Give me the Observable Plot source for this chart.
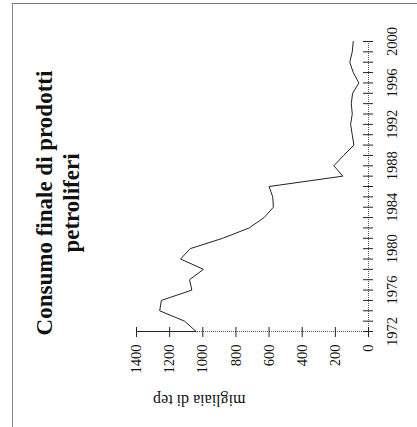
<!DOCTYPE html>
<html><head><meta charset="utf-8">
<script src="https://cdn.jsdelivr.net/npm/d3@7"></script>
<script src="https://cdn.jsdelivr.net/npm/@observablehq/plot@0.6"></script>
<style>
html,body{margin:0;padding:0;overflow:hidden;background:#fff;}
#page{position:relative;width:417px;height:427px;overflow:hidden;background:#fff;}
#border{position:absolute;left:12px;top:3px;width:420px;height:440px;border-left:1px solid #888;border-top:1px solid #777;}
#rot{position:absolute;left:0;top:0;width:427px;height:417px;transform-origin:0 0;transform:translate(0px,427px) rotate(-90deg);}
#title{position:absolute;left:21px;width:406px;top:31px;text-align:center;font-family:"Liberation Serif",serif;font-weight:bold;font-size:23px;line-height:27px;color:#111;}
#chart{position:absolute;left:0;top:0;}
</style></head><body>
<div id="page"><div id="border"></div><div id="rot"><div id="chart"></div><div id="title">Consumo finale di prodotti<br>petroliferi</div></div></div>
<script>
const years = [1972,1973,1974,1975,1976,1977,1978,1979,1980,1981,1982,1983,1984,1985,1986,1987,1988,1989,1990,1991,1992,1993,1994,1995,1996,1997,1998,1999,2000];
const values = [1040,1110,1260,1250,1066,1080,996,1134,1076,880,720,630,574,578,600,155,209,150,88,98,108,98,104,96,58,92,113,98,92];
const yearLabels = [1972,1976,1980,1984,1988,1992,1996,2000];
const valueTicks = [0,200,400,600,800,1000,1200,1400];
const axisTitle = "migliaia di tep";

const data = years.map((y, i) => ({year: y, value: values[i]}));

const chart = Plot.plot({
  width: 427, height: 417,
  marginLeft: 95, marginRight: 42, marginTop: 136, marginBottom: 49,
  style: {fontFamily: "Liberation Serif, serif", fontSize: "14.5px", color: "#111", background: "transparent"},
  x: {domain: [1972, 2000]},
  y: {domain: [0, 1400]},
  marks: [
    Plot.ruleY([0], {stroke: "#555", strokeDasharray: "1,1"}),
    Plot.ruleX([1972], {y1: 0, y2: 1400, stroke: "#555", strokeDasharray: "1,1"}),
    Plot.ruleX([1972], {y1: values[0], y2: 1400, stroke: "#222"}),
    Plot.ruleX(years, {x: d => d, y1: 0, y2: 0, insetTop: -5, insetBottom: -5, stroke: "#222"}),
    Plot.ruleY(valueTicks, {y: d => d, x1: 1972, x2: 1972, insetLeft: -5, insetRight: -5, stroke: "#222"}),
    Plot.axisX(yearLabels, {tickSize: 0, tickPadding: 18, tickFormat: d => String(d), label: null}),
    Plot.axisY(valueTicks, {tickSize: 0, tickPadding: 13, tickFormat: d => String(d), label: null}),
    Plot.line(data, {x: "year", y: "value", stroke: "#222", strokeWidth: 1}),
    Plot.text([axisTitle], {frameAnchor: "left", rotate: -90, dx: -69, dy: -7, fontSize: 16})
  ]
});
document.getElementById("chart").appendChild(chart);
</script>
</body></html>
